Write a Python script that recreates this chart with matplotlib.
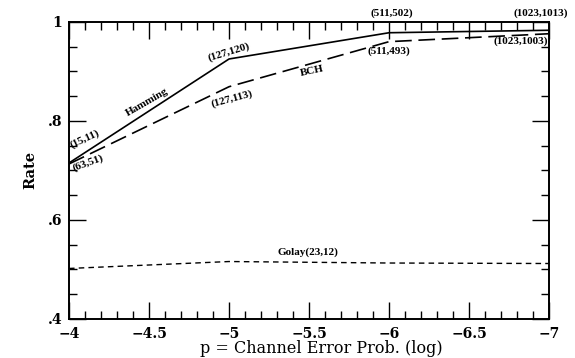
import matplotlib.pyplot as plt
from matplotlib.ticker import MultipleLocator, FuncFormatter

# log10 of channel error probability
p_log = [-4, -5, -6, -7]
hamming = [0.715, 0.925, 0.978, 0.983]
bch = [0.713, 0.869, 0.960, 0.976]
golay = [0.502, 0.516, 0.513, 0.512]

x_ticks = [-4, -4.5, -5, -5.5, -6, -6.5, -7]
y_ticks = [0.4, 0.6, 0.8, 1.0]

plt.rcParams['font.family'] = ['DejaVu Serif']

fig = plt.figure(figsize=(5.75, 3.58), dpi=100)
ax = fig.add_axes([0.12, 0.109, 0.835, 0.83])

ax.plot(p_log, hamming, color='black', lw=1.2)
ax.plot(p_log, bch, color='black', lw=1.2, dashes=(10, 4))
ax.plot(p_log, golay, color='black', lw=1.0, dashes=(4, 3))

ax.set_xlim(-4, -7)
ax.set_ylim(0.4, 1.0)

ax.set_xticks(x_ticks)
ax.xaxis.set_minor_locator(MultipleLocator(0.1))
ax.set_yticks(y_ticks)
ax.yaxis.set_minor_locator(MultipleLocator(0.05))
ax.xaxis.set_major_formatter(FuncFormatter(lambda v, pos: ('%g' % v).replace('-', '\u2212')))
ax.yaxis.set_major_formatter(FuncFormatter(lambda v, pos: '1' if v == 1 else ('%g' % v).lstrip('0')))

ax.tick_params(which='both', direction='in', top=True, right=True, width=1.0,
               labelsize=10)
ax.tick_params(which='major', length=12)
ax.tick_params(which='minor', length=6)
ax.tick_params(axis='y', pad=5)
ax.tick_params(axis='x', pad=6)
for s in ax.spines.values():
    s.set_linewidth(1.4)

for lbl in ax.get_xticklabels() + ax.get_yticklabels():
    lbl.set_fontweight('bold')

ax.set_xlabel('p = Channel Error Prob. (log)', fontsize=11.5, labelpad=-1, x=0.525)
ax.set_ylabel('Rate', fontsize=10.5, fontweight='bold', labelpad=7)

kw = dict(fontsize=8, fontweight='bold', ha='center', va='center',
          family=['Liberation Serif'])
ax.text(-4.1, 0.764, '(15,11)', rotation=25, **kw)
ax.text(-4.12, 0.716, '(63,51)', rotation=20, **kw)
ax.text(-4.49, 0.838, 'Hamming', rotation=30, **kw)
ax.text(-5.0, 0.939, '(127,120)', rotation=17, **kw)
ax.text(-5.02, 0.844, '(127,113)', rotation=15, **kw)
ax.text(-5.52, 0.901, 'BCH', rotation=12, **kw)
ax.text(-6.02, 1.017, '(511,502)', **kw)
ax.text(-6.0, 0.94, '(511,493)', **kw)
ax.text(-6.95, 1.017, '(1023,1013)', **kw)
ax.text(-6.82, 0.96, '(1023,1003)', **kw)
ax.text(-5.49, 0.534, 'Golay(23,12)', **kw)

fig.savefig('out.png', dpi=100)
